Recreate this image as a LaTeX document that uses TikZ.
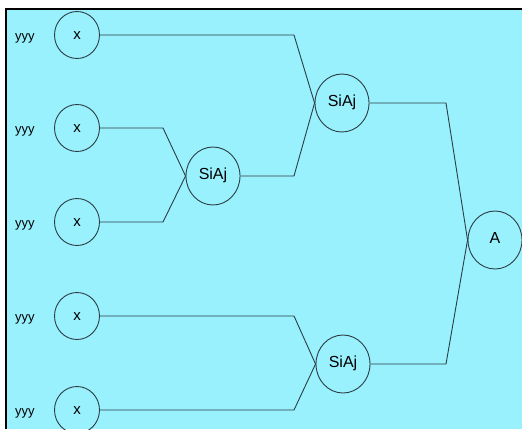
\documentclass[tikz,border=0pt]{standalone}
\usepackage{fontspec}
\setmainfont{Liberation Sans}
\usetikzlibrary{shapes.geometric}
\definecolor{panel}{RGB}{152,241,253}
\definecolor{wire}{RGB}{45,62,68}
\tikzset{
  leaf/.style={ellipse, draw=wire, line width=0.9pt, minimum width=45pt, minimum height=47pt,
    inner sep=0pt, font=\fontsize{15}{18}\selectfont, text height=1.12em, text depth=0.2em},
  joinnode/.style={ellipse, draw=wire, line width=0.9pt, minimum width=54pt, minimum height=58pt,
    inner sep=0pt, font=\fontsize{16}{19}\selectfont, text height=0.92em, text depth=0.2em},
  tag/.style={font=\fontsize{13}{15}\selectfont, inner sep=0pt},
  link/.style={draw=wire, line width=0.9pt},
}
\begin{document}
\begin{tikzpicture}[x=1pt, y=-1pt]
  % page and panel
  \useasboundingbox (0,0) rectangle (522,429);
  \fill[white] (0,0) rectangle (522,429);
  \fill[panel] (6,9) rectangle (522,429);
  \draw[black, line width=2pt] (6,429) -- (6,9) -- (522,9);

  % leaf labels
  \foreach \i/\y in {1/35, 2/128, 3/222, 4/316, 5/410}
    \node[tag] (t\i) at (25,\y+3) {yyy};

  % leaves
  \foreach \i/\y in {1/35, 2/128, 3/222, 4/316, 5/410}
    \node[leaf] (x\i) at (77,\y) {x};

  % joins
  \node[joinnode] (m)  at (213,176) {SiAj};
  \node[joinnode] (s1) at (342,103) {SiAj};
  \node[joinnode] (s2) at (343,364) {SiAj};
  \node[joinnode] (a)  at (495,240) {A};

  % bend columns
  \coordinate (c1) at (163,0);
  \coordinate (c2) at (294,0);
  \coordinate (c3) at (446,0);

  % connectors
  \draw[link] (x2.east) -- (x2.east -| c1) -- (m.west);
  \draw[link] (x3.east) -- (x3.east -| c1) -- (m.west);
  \draw[link] (x1.east) -- (x1.east -| c2) -- (s1.west);
  \draw[link] (m.east) -- (m.east -| c2) -- (s1.west);
  \draw[link] (x4.east) -- (x4.east -| c2) -- (s2.west);
  \draw[link] (x5.east) -- (x5.east -| c2) -- (s2.west);
  \draw[link] (s1.east) -- (s1.east -| c3) -- (a.west);
  \draw[link] (s2.east) -- (s2.east -| c3) -- (a.west);
\end{tikzpicture}
\end{document}
